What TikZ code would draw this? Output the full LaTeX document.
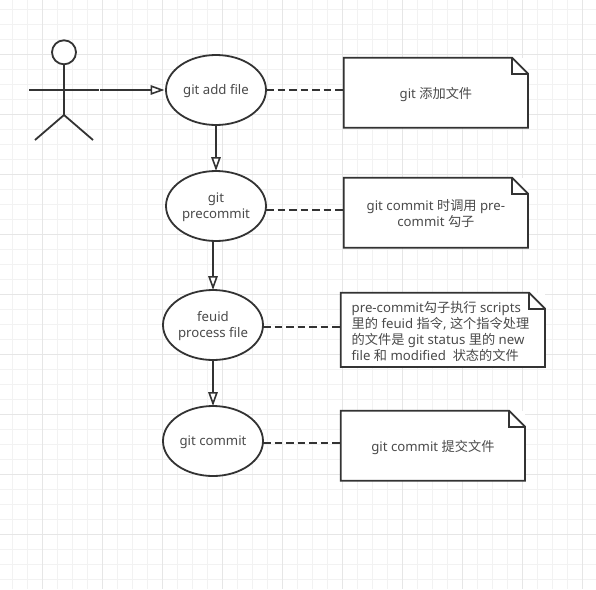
\documentclass[tikz,border=0pt]{standalone}
\usepackage{fontspec}
\setmainfont{Noto Sans}
\newfontfamily\cjkfont{Noto Sans CJK SC}
\newcommand{\Zh}[1]{{\cjkfont #1}}
\newcommand{\Lbl}[1]{\raisebox{-1.6pt}[\height][\depth]{\begin{tabular}{@{}c@{}}#1\end{tabular}}}
\newcommand{\NoteLbl}[1]{\raisebox{-2.6pt}[\height][\depth]{\begin{tabular}{@{}c@{}}#1\end{tabular}}}
\usetikzlibrary{shapes.geometric,arrows.meta,calc}
\definecolor{ink}{HTML}{333333}
\definecolor{txt}{HTML}{4A4A4A}
\definecolor{gridminor}{HTML}{F2F2F2}
\definecolor{gridmajor}{HTML}{E6E6E6}
\tikzset{
  x=1pt,y=-1pt,
  usecase/.style={ellipse,draw=ink,fill=white,line width=1.8pt,minimum width=100pt,minimum height=70pt,inner sep=0pt,outer sep=0pt,align=center,text=txt,font=\fontsize{13.2}{16}\selectfont},
  notebody/.style={fill=white,inner sep=0pt,outer sep=0pt,align=center,text=txt,font=\fontsize{13.2}{16}\selectfont},
  flow/.style={draw=ink,line width=1.8pt,-{Triangle[open,fill=white,length=14pt,width=9.5pt,line width=1.6pt]}},
  link/.style={draw=ink,line width=1.8pt,dash pattern=on 7.5pt off 4pt},
  outline/.style={draw=ink,line width=1.8pt,line join=miter},
}
\newcommand{\foldnote}[1]{%
  \draw[outline] (#1.north west) -- ($(#1.north east)+(-16,0)$) -- ($(#1.north east)+(0,16)$) -- (#1.south east) -- (#1.south west) -- cycle;
  \draw[outline] ($(#1.north east)+(-16,0)$) -- ($(#1.north east)+(-16,16)$) -- ($(#1.north east)+(0,16)$);
}
\begin{document}
\begin{tikzpicture}
\useasboundingbox (0,0) rectangle (596,589);
\fill[white] (0,0) rectangle (596,589);
\begin{scope}
\clip (0,0) rectangle (596,589);
\foreach \k in {0,...,39} {
  \draw[gridminor,line width=0.9pt] ({12.4+15*\k},0) -- ({12.4+15*\k},589);
  \draw[gridminor,line width=0.9pt] (0,{9.2+15*\k}) -- (596,{9.2+15*\k});
}
\foreach \k in {0,...,9} {
  \draw[gridmajor,line width=0.9pt] ({42.4+60*\k},0) -- ({42.4+60*\k},589);
  \draw[gridmajor,line width=0.9pt] (0,{54.2+60*\k}) -- (596,{54.2+60*\k});
}
\end{scope}

% actor
\node[circle,draw=ink,fill=white,line width=1.8pt,minimum size=24pt,inner sep=0pt,outer sep=0pt] (head) at (64,52.3) {};
\coordinate (hip) at (64,115);
\coordinate (armL) at (29,90);
\coordinate (armR) at (99,90);
\coordinate (footL) at (35,140);
\coordinate (footR) at (93,140);
\coordinate (actorOut) at (100,90);
\draw[outline] (head.south) -- (hip);
\draw[outline] (armL) -- (armR);
\draw[outline] (footL) -- (hip) -- (footR);

% use cases
\node[usecase] (e1) at (216,90) {\Lbl{git add file}};
\node[usecase] (e2) at (216,206) {\Lbl{git\\precommit}};
\node[usecase] (e3) at (213,325) {\Lbl{feuid\\process file}};
\node[usecase] (e4) at (213,441) {\Lbl{git commit}};

% notes
\node[notebody,minimum width=184.3pt,minimum height=70pt] (n1) at (435.9,92.7) {\NoteLbl{git \Zh{添加文件}}};
\node[notebody,minimum width=184.3pt,minimum height=70pt] (n2) at (435.9,212.7) {\NoteLbl{git commit \Zh{时调用} pre-\\commit \Zh{勾子}}};
\node[notebody,minimum width=204.3pt,minimum height=74.3pt] (n3) at (442.9,329.9) {};
\node[notebody,minimum width=184.3pt,minimum height=70pt] (n4) at (432.9,445.7) {\NoteLbl{git commit \Zh{提交文件}}};
\node[inner sep=0pt,outer sep=0pt,align=left,anchor=west,text=txt,font=\fontsize{13.2}{16}\selectfont] (n3text) at (351.7,331) {pre-commit\Zh{勾子执行} scripts\\\Zh{里的} feuid \Zh{指令}, \Zh{这个指令处理}\\\Zh{的文件是} git status \Zh{里的} new\\file \Zh{和} modified\ \ \Zh{状态的文件}};
\foldnote{n1}
\foldnote{n2}
\foldnote{n3}
\foldnote{n4}

% connectors
\draw[flow,shorten >=1.5pt] (actorOut) -- (e1.west);
\draw[flow] (e1.south) -- (e2.north);
\draw[flow] (e3.north |- e2.south) -- (e3.north);
\draw[flow] (e3.south) -- (e4.north);
\draw[link] (e1.east) -- (e1.east -| n1.west);
\draw[link] (e2.east |- 0,210) -- (n2.west |- 0,210);
\draw[link] (e3.east |- 0,327) -- (n3.west |- 0,327);
\draw[link] (e4.east |- 0,443) -- (n4.west |- 0,443);
\end{tikzpicture}
\end{document}
